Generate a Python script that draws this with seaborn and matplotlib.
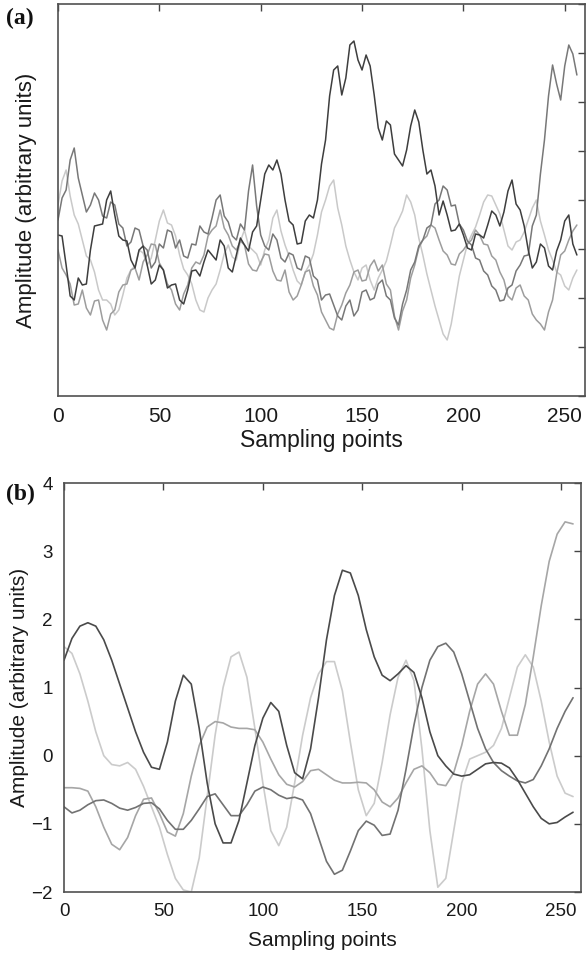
import numpy as np
import pandas as pd
import matplotlib
matplotlib.use("Agg")
import matplotlib.pyplot as plt
import seaborn as sns

# ---------------------------------------------------------------
# Sampling index: raw records every 2nd sample, denoised every 4th
# ---------------------------------------------------------------
raw_index = np.arange(0, 257, 2)
den_index = np.arange(0, 257, 4)
x_ticks = [0, 50, 100, 150, 200, 250]

# (a) raw noisy records, amplitude in arbitrary units (height above baseline)
raw_dark = [161, 160, 131, 100, 96, 118, 111, 112, 146, 170,
            171, 172, 196, 205, 181, 160, 156, 155, 136, 128,
            146, 150, 131, 112, 116, 131, 126, 108, 111, 112,
            96, 92, 106, 125, 126, 120, 134, 146, 141, 136,
            156, 150, 128, 124, 141, 158, 151, 145, 164, 170,
            196, 222, 231, 226, 236, 222, 196, 175, 171, 152,
            153, 175, 181, 178, 196, 232, 256, 300, 326, 330,
            301, 318, 351, 355, 336, 326, 341, 330, 301, 268,
            256, 275, 271, 242, 236, 230, 246, 270, 286, 274,
            246, 222, 226, 210, 181, 195, 181, 165, 166, 172,
            161, 148, 146, 162, 161, 158, 171, 185, 181, 170,
            184, 205, 216, 192, 186, 170, 146, 128, 134, 152,
            148, 130, 126, 145, 156, 175, 181, 152, 141]
raw_mid = [176, 198, 206, 236, 248, 218, 201, 184, 191, 203,
           196, 180, 178, 194, 191, 172, 168, 150, 154, 168,
           166, 150, 146, 128, 134, 152, 148, 166, 164, 148,
           156, 140, 138, 152, 151, 170, 164, 162, 178, 196,
           201, 180, 174, 160, 156, 172, 166, 205, 231, 190,
           161, 150, 146, 162, 156, 138, 134, 143, 141, 128,
           126, 140, 138, 120, 116, 96, 101, 102, 91, 80,
           76, 90, 96, 80, 86, 104, 106, 96, 98, 112,
           116, 100, 96, 78, 71, 92, 106, 126, 134, 150,
           156, 168, 171, 192, 196, 210, 206, 190, 191, 172,
           166, 155, 151, 138, 136, 125, 121, 110, 106, 95,
           96, 108, 111, 125, 131, 140, 141, 170, 181, 222,
           256, 300, 331, 312, 296, 330, 351, 342, 321]
raw_light = [146, 128, 121, 112, 91, 92, 106, 88, 81, 95,
             96, 76, 66, 82, 86, 104, 111, 112, 126, 128,
             116, 134, 141, 152, 151, 133, 126, 112, 106, 92,
             86, 102, 111, 128, 134, 132, 141, 160, 166, 170,
             186, 168, 161, 150, 146, 155, 151, 132, 126, 125,
             134, 142, 141, 125, 116, 115, 126, 104, 96, 100,
             111, 124, 126, 110, 101, 84, 76, 68, 66, 82,
             91, 103, 111, 124, 126, 115, 116, 130, 136, 125,
             131, 112, 106, 80, 66, 85, 96, 118, 131, 148,
             156, 160, 171, 168, 156, 145, 141, 132, 131, 142,
             146, 152, 156, 166, 161, 152, 151, 140, 136, 124,
             116, 100, 96, 108, 111, 100, 96, 82, 76, 72,
             66, 84, 96, 122, 141, 145, 156, 165, 171]
raw_pale = [191, 215, 226, 200, 181, 172, 156, 140, 136, 124,
            106, 96, 96, 92, 81, 86, 101, 118, 126, 130,
            146, 143, 131, 138, 156, 175, 186, 173, 171, 160,
            141, 127, 121, 112, 96, 86, 84, 98, 106, 112,
            126, 142, 151, 139, 136, 155, 166, 150, 146, 142,
            131, 146, 156, 178, 186, 165, 151, 140, 126, 115,
            111, 124, 131, 142, 161, 184, 196, 210, 216, 188,
            171, 150, 136, 124, 116, 128, 131, 116, 106, 118,
            126, 135, 151, 168, 176, 185, 201, 194, 181, 158,
            141, 122, 106, 90, 76, 62, 56, 72, 96, 120,
            136, 152, 161, 169, 181, 194, 201, 200, 191, 182,
            166, 150, 146, 154, 156, 164, 176, 188, 196, 175,
            161, 146, 136, 124, 121, 110, 106, 118, 126]

# (b) denoised records
den_dark = [1.40, 1.72, 1.90, 1.95, 1.90, 1.70, 1.40, 1.05, 0.70, 0.35, 0.05, -0.17, -0.20,
            0.20, 0.80, 1.18, 1.05, 0.40, -0.40, -1.00, -1.28, -1.28, -0.95, -0.40, 0.15,
            0.55, 0.78, 0.65, 0.15, -0.25, -0.34, 0.10, 0.85, 1.70, 2.35, 2.72, 2.68, 2.35,
            1.85, 1.45, 1.18, 1.10, 1.20, 1.32, 1.22, 0.85, 0.35, 0.00, -0.15, -0.27, -0.30,
            -0.28, -0.20, -0.12, -0.10, -0.11, -0.18, -0.35, -0.55, -0.75, -0.92, -1.00,
            -0.98, -0.90, -0.83]
den_mid = [-0.75, -0.84, -0.80, -0.72, -0.66, -0.65, -0.70, -0.77, -0.80, -0.76, -0.70,
           -0.69, -0.78, -0.95, -1.08, -1.08, -0.95, -0.78, -0.60, -0.56, -0.72, -0.88,
           -0.88, -0.72, -0.52, -0.46, -0.50, -0.58, -0.63, -0.61, -0.65, -0.85, -1.20,
           -1.55, -1.74, -1.68, -1.40, -1.10, -0.96, -1.02, -1.17, -1.15, -0.80, -0.20,
           0.45, 1.00, 1.40, 1.60, 1.65, 1.52, 1.20, 0.80, 0.40, 0.10, -0.10, -0.22, -0.30,
           -0.37, -0.40, -0.35, -0.15, 0.10, 0.40, 0.65, 0.85]
den_light = [-0.47, -0.47, -0.48, -0.52, -0.75, -1.05, -1.30, -1.38, -1.20, -0.88, -0.64,
             -0.62, -0.85, -1.12, -1.18, -0.85, -0.30, 0.15, 0.42, 0.50, 0.48, 0.42, 0.40,
             0.40, 0.38, 0.20, -0.05, -0.28, -0.42, -0.46, -0.38, -0.22, -0.20, -0.28,
             -0.36, -0.40, -0.40, -0.39, -0.40, -0.50, -0.68, -0.75, -0.62, -0.40, -0.20,
             -0.15, -0.25, -0.42, -0.44, -0.25, 0.15, 0.65, 1.05, 1.20, 1.05, 0.65, 0.30,
             0.30, 0.75, 1.45, 2.20, 2.85, 3.25, 3.43, 3.40]
den_pale = [1.60, 1.50, 1.20, 0.80, 0.35, 0.00, -0.13, -0.15, -0.10, -0.20, -0.45, -0.75,
            -1.05, -1.45, -1.80, -1.97, -2.00, -1.50, -0.60, 0.30, 1.00, 1.45, 1.52, 1.15,
            0.40, -0.40, -1.10, -1.32, -1.05, -0.40, 0.30, 0.85, 1.20, 1.38, 1.38, 0.95,
            0.20, -0.50, -0.88, -0.70, -0.10, 0.60, 1.15, 1.40, 1.10, 0.10, -1.10, -1.93,
            -1.80, -1.10, -0.40, -0.05, 0.00, 0.05, 0.15, 0.40, 0.85, 1.30, 1.48, 1.30,
            0.80, 0.20, -0.30, -0.55, -0.60]

sns.set_style("white")
plt.rcParams["font.family"] = ["Liberation Sans", "DejaVu Sans"]

W, H = 587, 955
fig = plt.figure(figsize=(W / 100, H / 100), dpi=100)


def box(left, top, right, bottom):
    return [left / W, 1 - bottom / H, (right - left) / W, (bottom - top) / H]


ax_a = fig.add_axes(box(58, 4, 585, 396))
ax_b = fig.add_axes(box(64, 483, 581, 892))

# light traces first so the dark ones sit on top
raw_series = [(raw_pale, "#c9c9c9"), (raw_light, "#9d9d9d"),
              (raw_mid, "#787878"), (raw_dark, "#3e3e3e")]
for vals, col in raw_series:
    sns.lineplot(x=raw_index, y=vals, color=col, linewidth=1.1, ax=ax_a, legend=False)

den_series = [(den_pale, "#cbcbcb"), (den_light, "#a6a6a6"),
              (den_mid, "#727272"), (den_dark, "#4a4a4a")]
for vals, col in den_series:
    sns.lineplot(x=den_index, y=vals, color=col, linewidth=1.2, ax=ax_b, legend=False)

for ax in (ax_a, ax_b):
    ax.set_xlim(0, 260)
    ax.set_xticks(x_ticks)
    ax.tick_params(direction="in", top=True, right=True, length=5, width=1,
                   color="#444444", labelcolor="#1a1a1a")
    for sp in ax.spines.values():
        sp.set_color("#505050")
        sp.set_linewidth(1.2)

ax_a.set_ylim(0, 392)
ax_a.set_yticks(np.arange(0, 393, 49))
ax_a.tick_params(labelleft=False, labelsize=15, pad=8)
ax_a.set_xlabel("Sampling points", fontsize=16.5, va="center", color="#1a1a1a")
ax_a.xaxis.set_label_coords(0.5, -(440 - 396) / 392)
ax_a.set_ylabel("Amplitude (arbitrary units)", fontsize=16, va="center", color="#1a1a1a")
ax_a.yaxis.set_label_coords(-(58 - 27) / 527, 0.5)

ax_b.set_ylim(-2, 4)
ax_b.set_yticks([-2, -1, 0, 1, 2, 3, 4])
ax_b.tick_params(labelsize=13.5, pad=8)
ax_b.set_xlabel("Sampling points", fontsize=15, va="center", color="#1a1a1a")
ax_b.xaxis.set_label_coords(0.5, -(940 - 892) / 409)
ax_b.set_ylabel("Amplitude (arbitrary units)", fontsize=15, va="center", color="#1a1a1a")
ax_b.yaxis.set_label_coords(-(64 - 20) / 517, 0.5)

panel_font = dict(family=["Liberation Serif", "DejaVu Serif"], weight="bold",
                  fontsize=17, color="#111111", va="center", ha="left")
fig.text(6 / W, 1 - 18 / H, "(a)", **panel_font)
fig.text(6 / W, 1 - 494 / H, "(b)", **panel_font)

fig.savefig("out.png", dpi=100)
